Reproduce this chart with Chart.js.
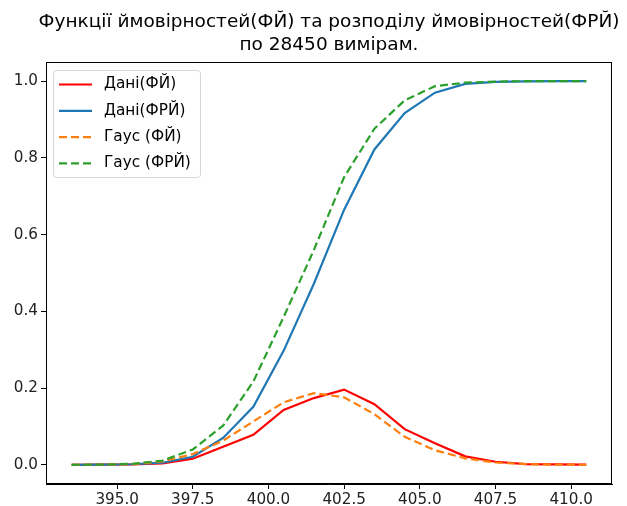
<!DOCTYPE html>
<html>
<head>
<meta charset="utf-8">
<script src="https://cdn.jsdelivr.net/npm/chart.js@4/dist/chart.umd.min.js"></script>
<style>
  html, body { margin: 0; padding: 0; background: #fff; }
  #wrap { width: 627px; height: 506px; }
</style>
</head>
<body>
<div id="wrap"><canvas id="chart"></canvas></div>
<script>
// measurement points (centres of the bins)
const xs = [393.5, 394.5, 395.5, 396.5, 397.5, 398.5, 399.5, 400.5, 401.5,
            402.5, 403.5, 404.5, 405.5, 406.5, 407.5, 408.5, 409.5, 410.5];

const dataPdf = [0, 0.0005, 0.001, 0.004, 0.016, 0.047, 0.078, 0.143, 0.174,
                 0.196, 0.158, 0.093, 0.056, 0.022, 0.008, 0.002, 0.001, 0.0005];
const dataCdf = [0, 0.0005, 0.0015, 0.0055, 0.021, 0.07, 0.151, 0.297, 0.472,
                 0.665, 0.822, 0.917, 0.970, 0.993, 0.998, 0.9995, 1.0, 1.0];
const gaussPdf = [0, 0.0003, 0.002, 0.009, 0.028, 0.063, 0.113, 0.163, 0.187,
                  0.176, 0.132, 0.073, 0.038, 0.017, 0.006, 0.002, 0.0005, 0.0001];
const gaussCdf = [0, 0.0005, 0.0025, 0.011, 0.04, 0.102, 0.217, 0.385, 0.56,
                  0.75, 0.876, 0.950, 0.987, 0.996, 0.999, 1.0, 1.0, 1.0];

const labels = ['Дані(ФЙ)', 'Дані(ФРЙ)', 'Гаус (ФЙ)', 'Гаус (ФРЙ)'];
const titleLines = ['Функції ймовірностей(ФЙ) та розподілу ймовірностей(ФРЙ)',
                    'по 28450 вимірам.'];
const xTicks = [395, 397.5, 400, 402.5, 405, 407.5, 410];
const yTicks = [0, 0.2, 0.4, 0.6, 0.8, 1.0];

const FONT = "'DejaVu Sans', sans-serif";
const pts = ys => xs.map((x, i) => ({ x: x, y: ys[i] }));

// matplotlib-like frame, title and legend
const mplDecor = {
  id: 'mplDecor',
  afterDraw(chart) {
    const { ctx, chartArea: a } = chart;
    ctx.save();
    ctx.strokeStyle = '#000';
    ctx.lineWidth = 1;
    ctx.strokeRect(Math.round(a.left) + 0.5, Math.round(a.top) + 0.5,
                   Math.round(a.right - a.left) - 1, Math.round(a.bottom - a.top) - 1);

    // title
    ctx.fillStyle = '#000';
    ctx.font = '18.5px ' + FONT;
    ctx.textAlign = 'center';
    ctx.textBaseline = 'alphabetic';
    const cx = (a.left + a.right) / 2;
    ctx.fillText(titleLines[0], cx, 27);
    ctx.fillText(titleLines[1], cx, 50);

    // legend box
    const bx = a.left + 7.5, by = a.top + 8.5, bw = 147, bh = 107;
    ctx.beginPath();
    ctx.roundRect(bx, by, bw, bh, 3);
    ctx.fillStyle = 'rgba(255,255,255,0.8)';
    ctx.fill();
    ctx.strokeStyle = '#d6d6d6';
    ctx.stroke();

    ctx.font = '15.3px ' + FONT;
    ctx.textAlign = 'left';
    ctx.textBaseline = 'middle';
    chart.data.datasets.forEach((ds, i) => {
      const y = a.top + 22.5 + i * 26.3;
      ctx.beginPath();
      ctx.setLineDash(ds.borderDash || []);
      ctx.strokeStyle = ds.borderColor;
      ctx.lineWidth = ds.borderWidth;
      ctx.moveTo(a.left + 13, y);
      ctx.lineTo(a.left + 46, y);
      ctx.stroke();
      ctx.setLineDash([]);
      ctx.fillStyle = '#000';
      ctx.fillText(ds.label, a.left + 58, y);
    });
    ctx.restore();
  }
};

new Chart(document.getElementById('chart'), {
  type: 'line',
  data: {
    datasets: [
      { label: labels[0], data: pts(dataPdf), borderColor: '#ff0000', borderWidth: 2.2, order: 3 },
      { label: labels[1], data: pts(dataCdf), borderColor: '#1f77b4', borderWidth: 2.2, order: 2 },
      { label: labels[2], data: pts(gaussPdf), borderColor: '#ff7f0e', borderWidth: 2.2, borderDash: [8, 4], order: 1 },
      { label: labels[3], data: pts(gaussCdf), borderColor: '#2ca02c', borderWidth: 2.2, borderDash: [8, 4], order: 0 }
    ]
  },
  options: {
    responsive: true,
    maintainAspectRatio: false,
    animation: false,
    elements: { point: { radius: 0 }, line: { tension: 0, fill: false } },
    layout: { padding: { top: 62, right: 15, left: 0, bottom: 0 } },
    plugins: {
      legend: { display: false },
      title: { display: false },
      tooltip: { enabled: false }
    },
    scales: {
      x: {
        type: 'linear',
        min: 392.65,
        max: 411.35,
        afterBuildTicks: s => { s.ticks = xTicks.map(v => ({ value: v })); },
        afterFit: s => { s.height = 22; },
        grid: { drawOnChartArea: false, drawTicks: true, tickLength: 5, color: '#000' },
        border: { display: true, color: '#000' },
        ticks: {
          color: '#222',
          font: { family: FONT, size: 15.2 },
          padding: 2,
          maxRotation: 0,
          callback: v => v.toFixed(1)
        }
      },
      y: {
        min: -0.05,
        max: 1.05,
        afterBuildTicks: s => { s.ticks = yTicks.map(v => ({ value: v })); },
        afterFit: s => { s.width = 46; },
        grid: { drawOnChartArea: false, drawTicks: true, tickLength: 5, color: '#000' },
        border: { display: true, color: '#000' },
        ticks: {
          color: '#222',
          font: { family: FONT, size: 15.2 },
          padding: 3,
          callback: v => v.toFixed(1)
        }
      }
    }
  },
  plugins: [mplDecor]
});
</script>
</body>
</html>
